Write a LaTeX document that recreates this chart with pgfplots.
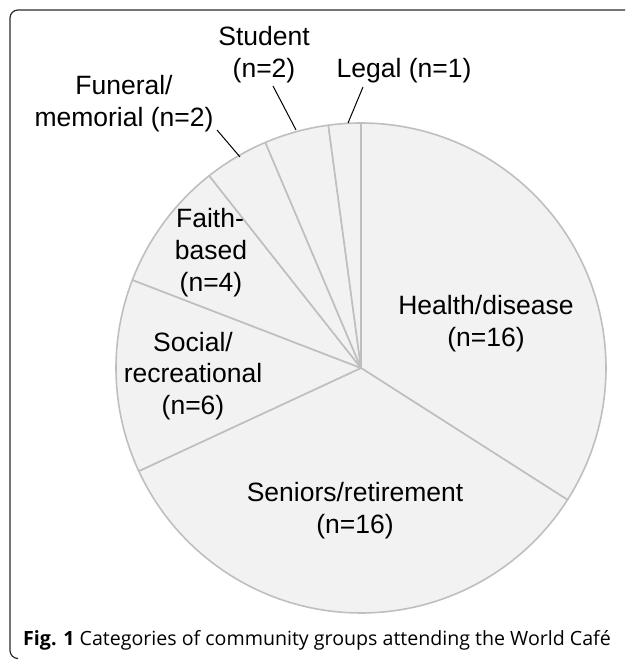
\documentclass[border=0pt]{standalone}
\usepackage{fontspec}
\setmainfont{Liberation Sans}
\newfontfamily\capfont{Open Sans}
\usepackage{pgfplots}
\pgfplotsset{compat=1.18}
\usepackage{pgfplotstable}
\definecolor{piefill}{HTML}{F2F2F2}
\definecolor{pieedge}{HTML}{BFBFBF}
\definecolor{framecol}{HTML}{2B2B2B}

\pgfplotstableread{
name value
Health 16
Seniors 16
Social 6
Faith 4
Funeral 2
Student 2
Legal 1
}\piedata

% total
\gdef\pietotal{0}
\foreach \i in {0,...,6}{%
  \pgfplotstablegetelem{\i}{value}\of\piedata
  \pgfmathsetmacro\tmp{\pietotal+\pgfplotsretval}%
  \xdef\pietotal{\tmp}%
}
% cumulative angles, clockwise from 90 degrees
\gdef\runang{90}
\foreach \i in {0,...,6}{%
  \pgfplotstablegetelem{\i}{value}\of\piedata
  \pgfmathsetmacro\nxt{\runang-\pgfplotsretval*360/\pietotal}%
  \expandafter\xdef\csname beg\i\endcsname{\runang}%
  \expandafter\xdef\csname end\i\endcsname{\nxt}%
  \xdef\runang{\nxt}%
}

\begin{document}
\begin{tikzpicture}
\begin{axis}[x=1pt, y=1pt, xmin=0, xmax=625, ymin=0, ymax=660,
  hide axis, clip=false]
\path (axis cs:0,0) rectangle (axis cs:625,660);
% frame
\draw[framecol, line width=1.2pt, rounded corners=8pt]
  (axis cs:625,650) -- (axis cs:10,650) -- (axis cs:10,1.5) -- (axis cs:17,1.5);
% wedges
\pgfplotsinvokeforeach{0,...,6}{%
  \addplot[fill=piefill, draw=pieedge, line width=1.6pt, line join=round,
    domain=\csname end#1\endcsname:\csname beg#1\endcsname, samples=90, variable=\t]
    ({361+245*cos(t)},{292+245*sin(t)}) -- (axis cs:361,292) -- cycle;
}
% leader lines
\addplot[black, line width=1pt] coordinates {(217,530) (240,503)};
\addplot[black, line width=1pt] coordinates {(273,574) (296,530)};
\addplot[black, line width=1pt] coordinates {(363,573) (348,537)};
% labels
\tikzset{lab/.style={anchor=base, inner sep=0pt, font=\fontsize{26.5}{32}\selectfont}}
\node[lab] at (axis cs:124,565) {Funeral/};
\node[lab] at (axis cs:124,533) {memorial (n=2)};
\node[lab] at (axis cs:264,614) {Student};
\node[lab] at (axis cs:264,582) {(n=2)};
\node[lab] at (axis cs:404,582) {Legal (n=1)};
\node[lab] at (axis cs:210,432) {Faith-};
\node[lab] at (axis cs:211,400) {based};
\node[lab] at (axis cs:211,368) {(n=4)};
\node[lab] at (axis cs:193,308) {Social/};
\node[lab] at (axis cs:193,277) {recreational};
\node[lab] at (axis cs:193,245) {(n=6)};
\node[lab] at (axis cs:486,345) {Health/disease};
\node[lab] at (axis cs:486,313) {(n=16)};
\node[lab] at (axis cs:355,158) {Seniors/retirement};
\node[lab] at (axis cs:355,126) {(n=16)};
% caption
\node[anchor=base west, inner sep=0pt, font=\capfont\fontsize{19.6}{23}\selectfont]
  at (axis cs:23,14) {\textbf{Fig. 1} Categories of community groups attending the World Café};
\end{axis}
\end{tikzpicture}
\end{document}
